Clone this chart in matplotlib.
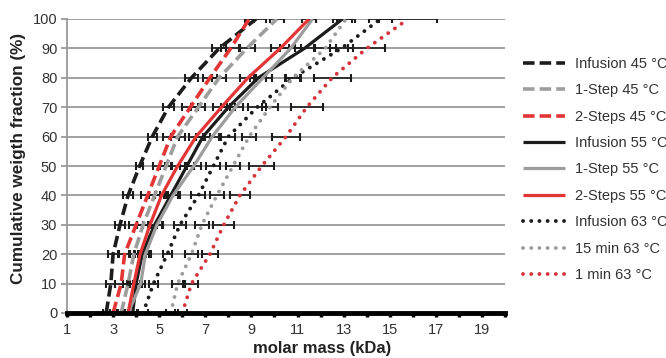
import matplotlib
matplotlib.use("Agg")
import matplotlib.pyplot as plt

plt.rcParams['font.family'] = ['Liberation Sans', 'DejaVu Sans']

# Cumulative weight fraction levels (%)
levels = [0, 10, 20, 30, 40, 50, 60, 70, 80, 90, 100]

# Molar mass (kDa) reached at each cumulative level
infusion_45 = [2.7, 2.9, 3.0, 3.3, 3.65, 4.15, 4.7, 5.4, 6.4, 7.6, 9.2]
step1_45 = [3.35, 3.65, 3.9, 4.3, 4.8, 5.3, 5.8, 6.7, 7.6, 8.8, 10.1]
step2_45 = [3.0, 3.35, 3.5, 4.0, 4.5, 5.0, 5.5, 6.35, 7.2, 8.1, 8.9]
infusion_55 = [3.85, 4.0, 4.26, 4.8, 5.5, 6.2, 6.9, 8.0, 9.3, 11.3, 12.95]
step1_55 = [3.65, 4.2, 4.4, 4.9, 5.6, 6.5, 7.3, 8.3, 9.5, 10.7, 11.65]
step2_55 = [3.65, 3.9, 4.17, 4.6, 5.1, 5.8, 6.6, 7.7, 8.85, 10.25, 11.5]
infusion_63 = [4.3, 4.75, 5.35, 5.9, 6.7, 7.35, 8.0, 9.25, 10.8, 12.9, 14.6]
min15_63 = [5.5, 5.8, 6.4, 6.85, 7.5, 8.2, 8.9, 9.8, 10.8, 12.2, 13.1]
min1_63 = [6.0, 6.4, 7.2, 7.8, 8.5, 9.45, 10.5, 11.4, 12.5, 14.0, 15.8]

# Standard deviations (kDa)
err_infusion_45 = [0.15, 0.2, 0.2, 0.2, 0.2, 0.15, 0.2, 0.25, 0.3, 0.3, 0.45]
err_step1_45 = [0.15, 0.2, 0.2, 0.25, 0.25, 0.25, 0.3, 0.3, 0.3, 0.35, 0.3]
err_step2_45 = [0.15, 0.25, 0.25, 0.3, 0.3, 0.25, 0.35, 0.35, 0.3, 0.4, 0.2]
err_infusion_55 = [0.2, 0.25, 0.3, 0.3, 0.3, 0.3, 0.3, 0.3, 0.35, 0.4, 0.4]
err_step1_55 = [0.2, 0.2, 0.25, 0.25, 0.3, 0.3, 0.3, 0.35, 0.4, 0.45, 0.15]
err_step2_55 = [0.2, 0.25, 0.25, 0.3, 0.3, 0.3, 0.3, 0.35, 0.35, 0.4, 0.3]
err_infusion_63 = [0.2, 0.2, 0.2, 0.25, 0.3, 0.3, 0.3, 0.4, 0.3, 0.5, 0.5]
err_min15_63 = [0.2, 0.25, 0.3, 0.3, 0.3, 0.3, 0.3, 0.35, 0.35, 0.45, 0.4]
err_min1_63 = [0.2, 0.3, 0.35, 0.45, 0.45, 0.55, 0.6, 0.7, 0.8, 0.8, 1.25]

labels = ["Infusion 45 °C", "1-Step 45 °C", "2-Steps 45 °C",
          "Infusion 55 °C", "1-Step 55 °C", "2-Steps 55 °C",
          "Infusion 63 °C", "15 min 63 °C", "1 min 63 °C"]

BLACK = "#1c1c1c"
GRAY = "#9d9d9d"
RED = "#e33535"
RED_DOT = "#d6343c"

DASHED = (0, (3.2, 1.4))
DOTTED = (0, (0.01, 2.1))

series = [
    (infusion_45, err_infusion_45, BLACK, DASHED, 2.6),
    (step1_45, err_step1_45, GRAY, DASHED, 2.6),
    (step2_45, err_step2_45, RED, DASHED, 2.6),
    (infusion_55, err_infusion_55, BLACK, "-", 2.3),
    (step1_55, err_step1_55, GRAY, "-", 2.3),
    (step2_55, err_step2_55, RED, "-", 2.3),
    (infusion_63, err_infusion_63, BLACK, DOTTED, 2.8),
    (min15_63, err_min15_63, GRAY, DOTTED, 2.8),
    (min1_63, err_min1_63, RED_DOT, DOTTED, 2.8),
]

fig = plt.figure(figsize=(6.66, 3.58), dpi=100)
ax = fig.add_axes([67 / 666, 1 - 313 / 358, (505 - 67) / 666, (313 - 19) / 358])

for (xs, err, color, ls, lw), lab in zip(series, labels):
    ax.errorbar(xs, levels, xerr=err, fmt="none", ecolor=BLACK,
                elinewidth=1.2, capsize=3, capthick=1.5, zorder=3)
    ax.plot(xs, levels, color=color, linestyle=ls, linewidth=lw,
            dash_capstyle="round" if ls == DOTTED else "butt",
            solid_capstyle="butt", solid_joinstyle="round",
            label=lab, zorder=4)

ax.set_xlim(1, 20)
ax.set_ylim(0, 100)

ax.set_xticks(range(1, 21))
ax.set_xticklabels([str(v) if v % 2 == 1 else "" for v in range(1, 21)])
ax.set_yticks(range(0, 101, 10))

ax.yaxis.grid(True, color="#9a9a9a", linewidth=1.3)
ax.set_axisbelow(True)

for side in ("top", "right"):
    ax.spines[side].set_visible(False)
ax.spines["left"].set_color("#9a9a9a")
ax.spines["left"].set_linewidth(1.3)
ax.spines["bottom"].set_color("black")
ax.spines["bottom"].set_linewidth(3.5)
ax.spines["bottom"].set_zorder(6)

ax.tick_params(axis="x", direction="out", length=3, width=2.5, color="black",
               labelsize=10.5, labelcolor="#333333", pad=4)
ax.tick_params(axis="y", direction="out", length=4, width=1.3, color="#9a9a9a",
               labelsize=10.5, labelcolor="#333333", pad=3)

fig.text(322 / 666, 1 - 349 / 358, "molar mass (kDa)", fontsize=12,
         fontweight="bold", color="#222222", ha="center", va="center")
fig.text(19 / 666, 1 - 158.5 / 358, "Cumulative weigth fraction (%)",
         fontsize=12.3, fontweight="bold", color="#222222",
         rotation=90, ha="center", va="center")

fig.legend(loc="center left", bbox_to_anchor=(523 / 666, 1 - 169.5 / 358),
           frameon=False, fontsize=10.5, handlelength=2.9, handletextpad=0.65,
           labelspacing=0.85, borderpad=0, borderaxespad=0,
           labelcolor="#333333")

fig.savefig("out.png", dpi=100)
